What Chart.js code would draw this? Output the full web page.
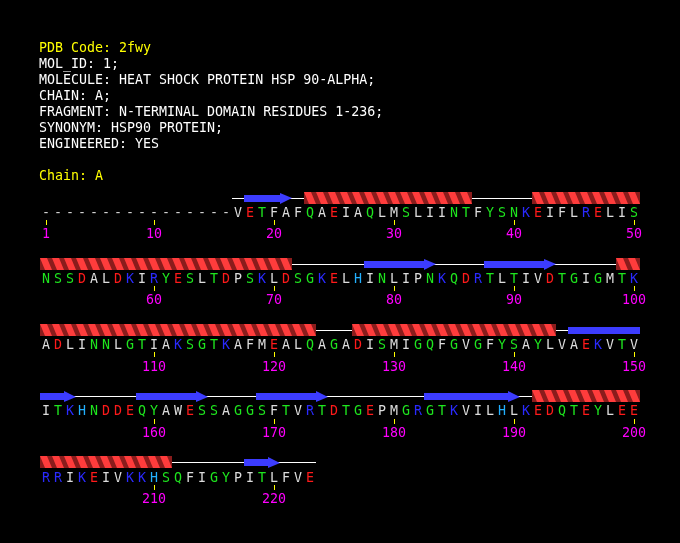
<!DOCTYPE html>
<html>
<head>
<meta charset="utf-8">
<script src="https://cdn.jsdelivr.net/npm/chart.js@4"></script>
<style>
  html, body { margin: 0; padding: 0; background: #000; }
  #wrap { position: absolute; left: 0; top: 0; width: 680px; height: 543px; }
  #header {
    position: absolute; left: 39px; top: 40px;
    font-family: 'DejaVu Sans Mono', monospace; font-size: 13.3px; line-height: 16px;
    white-space: pre; color: #fff;
  }
  .yel { color: #ffff00; }
</style>
</head>
<body>
<div id="wrap"><canvas id="seq"></canvas></div>
<div id="header"></div>
<script>
// header text
const pdbCode = '2fwy';
const compndLines = [
  'MOL_ID: 1;',
  'MOLECULE: HEAT SHOCK PROTEIN HSP 90-ALPHA;',
  'CHAIN: A;',
  'FRAGMENT: N-TERMINAL DOMAIN RESIDUES 1-236;',
  'SYNONYM: HSP90 PROTEIN;',
  'ENGINEERED: YES'
];
const chainId = 'A';

// sequence, residues 1-16 not observed (drawn as dashes)
const firstObserved = 17;
const sequence =
  'VETFAFQAEIAQLMSLIINTFYSNKEIFLRELIS' +
  'NSSDALDKIRYESLTDPSKLDSGKELHINLIPNKQDRTLTIVDTGIGMTK' +
  'ADLINNLGTIAKSGTKAFMEALQAGADISMIGQFGVGFYSAYLVAEKVTV' +
  'ITKHNDDEQYAWESSAGGSFTVRTDTGEPMGRGTKVILHLKEDQTEYLEE' +
  'RRIKEIVKKHSQFIGYPITLFVE';
const lastResidue = firstObserved + sequence.length - 1;

// secondary structure [start, end] residue numbers
const helices = [[23, 36], [42, 71], [99, 123], [127, 143], [192, 211]];
const strands = [[18, 21], [78, 83], [88, 93], [145, 153], [159, 164], [169, 174], [183, 190], [218, 220]];

const tickResidues = [1, 10, 20, 30, 40, 50, 60, 70, 80, 90, 100, 110, 120, 130, 140, 150,
  160, 170, 180, 190, 200, 210, 220];
const perRow = 50;

// residue colouring
const acidic = 'DE', basic = 'KR', histidine = 'H', polar = 'STNQGYC';
function resColour(c) {
  if (acidic.includes(c)) return '#ff1a1a';
  if (basic.includes(c)) return '#2a2aff';
  if (histidine.includes(c)) return '#22b0ff';
  if (polar.includes(c)) return '#1ee61e';
  return '#dcdcdc';
}

// header as html text
const hdr = document.getElementById('header');
hdr.innerHTML = '<span class="yel">PDB Code: ' + pdbCode + '</span>\n' +
  compndLines.join('\n') + '\n\n<span class="yel">Chain: ' + chainId + '</span>';

const colOf = n => (n - 1) % perRow + 1;
const rowOf = n => Math.floor((n - 1) / perRow);

// split a residue range into per-row pieces
function pieces(a, b) {
  const out = [];
  let s = a;
  while (s <= b) {
    const r = rowOf(s);
    const e = Math.min(b, (r + 1) * perRow);
    out.push({ row: r, c0: colOf(s), c1: colOf(e), last: e === b });
    s = e + 1;
  }
  return out;
}

const FONT = "13.3px 'DejaVu Sans Mono'";

const seqPlugin = {
  id: 'seqPlugin',
  afterDraw(chart) {
    const ctx = chart.ctx;
    const xs = chart.scales.x, ys = chart.scales.y;
    const px = c => xs.getPixelForValue(c);
    const base = r => ys.getPixelForValue(r);
    ctx.save();

    // backbone line
    ctx.fillStyle = '#ffffff';
    pieces(firstObserved, lastResidue).forEach(p => {
      const x0 = px(p.c0 - 0.5), x1 = px(p.c1 + 0.5);
      ctx.fillRect(x0, Math.round(base(p.row) - 19), x1 - x0, 1);
    });

    // helices: dark body with bright slanted stripes, one per residue
    helices.forEach(h => {
      pieces(h[0], h[1]).forEach(p => {
        const x0 = px(p.c0 - 0.5), x1 = px(p.c1 + 0.5);
        const yb = base(p.row);
        const T = Math.round(yb - 25), B = Math.round(yb - 13);
        ctx.save();
        ctx.beginPath();
        ctx.rect(x0, T, x1 - x0, B - T);
        ctx.clip();
        ctx.fillStyle = '#8a1c1c';
        ctx.fillRect(x0, T, x1 - x0, B - T);
        ctx.fillStyle = '#ff3c3c';
        for (let c = p.c0 - 1; c <= p.c1; c++) {
          const xl = px(c - 0.5);
          ctx.beginPath();
          ctx.moveTo(xl, T);
          ctx.lineTo(xl + 7, T);
          ctx.lineTo(xl + 12, B);
          ctx.lineTo(xl + 5, B);
          ctx.closePath();
          ctx.fill();
        }
        ctx.restore();
      });
    });

    // strands
    ctx.fillStyle = '#3c3cff';
    strands.forEach(s => {
      pieces(s[0], s[1]).forEach(p => {
        const x0 = px(p.c0 - 0.5), x1 = px(p.c1 + 0.5);
        const yb = base(p.row);
        const head = p.last ? 12 : 0;
        ctx.fillRect(x0, Math.round(yb - 22), x1 - head - x0, 7);
        if (p.last) {
          ctx.beginPath();
          ctx.moveTo(x1 - head, Math.round(yb - 24));
          ctx.lineTo(x1, Math.round(yb - 18.5));
          ctx.lineTo(x1 - head, Math.round(yb - 13));
          ctx.closePath();
          ctx.fill();
        }
      });
    });

    // residue letters
    ctx.font = FONT;
    ctx.textAlign = 'center';
    ctx.textBaseline = 'alphabetic';
    for (let n = 1; n <= lastResidue; n++) {
      const x = px(colOf(n)), yb = base(rowOf(n));
      if (n < firstObserved) {
        ctx.fillStyle = '#cfcfcf';
        ctx.fillText('-', x, yb);
      } else {
        const c = sequence[n - firstObserved];
        ctx.fillStyle = resColour(c);
        ctx.fillText(c, x, yb);
      }
    }

    // numbering ticks
    tickResidues.forEach(n => {
      const x = px(colOf(n)), yb = base(rowOf(n));
      ctx.fillStyle = '#ffff00';
      ctx.fillRect(Math.floor(x), Math.round(yb + 3.5), 1, 5);
      ctx.fillStyle = '#ff00ff';
      ctx.fillText(String(n), x, yb + 21.5);
    });

    ctx.restore();
  }
};

new Chart(document.getElementById('seq'), {
  type: 'scatter',
  data: { datasets: [{ data: [] }] },
  options: {
    responsive: true,
    maintainAspectRatio: false,
    animation: false,
    events: [],
    layout: { padding: 0 },
    plugins: { legend: { display: false }, tooltip: { enabled: false } },
    scales: {
      x: { type: 'linear', display: false, min: 1 - 46 / 12, max: 1 - 46 / 12 + 680 / 12 },
      y: { type: 'linear', display: false, reverse: true, min: -216.5 / 66.25, max: -216.5 / 66.25 + 543 / 66.25 }
    }
  },
  plugins: [seqPlugin]
});
</script>
</body>
</html>
